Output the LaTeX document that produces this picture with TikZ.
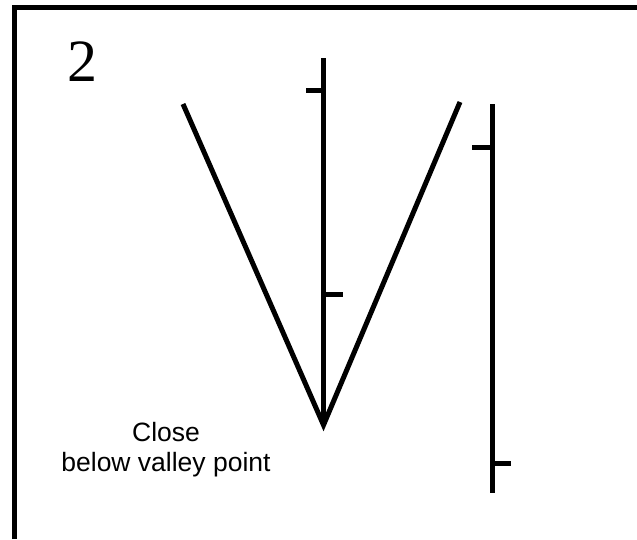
\documentclass[tikz,border=0pt]{standalone}
\usepackage{fontspec}
\setsansfont{Liberation Sans}
\newfontfamily\digitfont{Liberation Serif}
\usetikzlibrary{calc}

\begin{document}
\begin{tikzpicture}[x=1pt, y=-1pt, line width=5pt,
  every node/.style={font=\sffamily\fontsize{26.5}{30}\selectfont}]
  \useasboundingbox (0,0) rectangle (637,539);
  % frame
  \draw (14.5,539) -- (14.5,7.5) -- (637,7.5);
  \node (number) at (82,62) {\digitfont\fontsize{60}{60}\selectfont 2};

  % valley and the scale through it
  \coordinate (valley) at (323.5,425);
  \draw (183,104) -- (valley) -- (460,102);
  \draw (valley) -- (323.5,58);
  \draw (323.5,90.5) -- (306,90.5);
  \draw (323.5,294) -- (343,294);

  % second scale
  \draw (492,104) -- (492,493);
  \draw (492,147) -- (472,147);
  \draw (492,463) -- (511,463);

  \node[align=center] (caption) at (166,450) {Close\\below valley point};
\end{tikzpicture}
\end{document}
